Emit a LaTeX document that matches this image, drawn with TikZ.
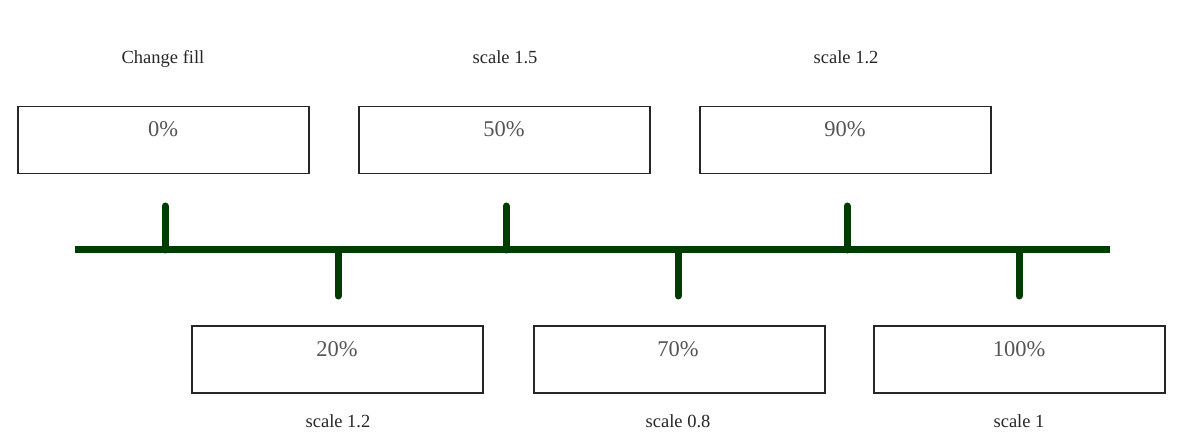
\documentclass[tikz,border=0pt]{standalone}
\usepackage{fontspec}
\setmainfont{Liberation Serif}
\definecolor{tl}{RGB}{0,60,0}
\definecolor{pct}{RGB}{85,85,85}
\begin{document}
\begin{tikzpicture}[x=1pt,y=-1pt,
  box/.style={draw=black!85,line width=1.5pt,fill=white,minimum width=291pt,minimum height=67pt,inner sep=0pt,anchor=north west},
  pc/.style={text=pct,font=\fontsize{22.5}{26}\selectfont,anchor=base},
  lab/.style={text=black!85,font=\fontsize{18.5}{22}\selectfont,anchor=base},
  tline/.style={draw=tl,line width=7pt},
  tick/.style={draw=tl,line width=7pt,line cap=round}]
\useasboundingbox (0,0) rectangle (1196,438);
% timeline
\coordinate (L) at (75,250);
\coordinate (R) at (1110,250);
\draw[tline] (L) -- (R);
% ticks
\foreach \n/\x/\y in {t1/165/206,t3/506/206,t5/847/206,t2/338/296,t4/678/296,t6/1019/296}{
  \coordinate (\n a) at (\x,250);
  \coordinate (\n b) at (\x,\y);
  \draw[tick] (\n a) -- (\n b);
}
% boxes
\node[box] (b0) at (17,106) {};
\node[box] (b50) at (358,106) {};
\node[box] (b90) at (699,106) {};
\node[box] (b20) at (191,325) {};
\node[box] (b70) at (533,325) {};
\node[box] (b100) at (873,325) {};
% percentages
\node[pc] (p0) at (163,137) {0\%};
\node[pc] (p50) at (504,137) {50\%};
\node[pc] (p90) at (845,137) {90\%};
\node[pc] (p20) at (337,356) {20\%};
\node[pc] (p70) at (678,356) {70\%};
\node[pc] (p100) at (1019,356) {100\%};
% labels
\node[lab] (l0) at (163,64) {Change fill};
\node[lab] (l50) at (505,64) {scale 1.5};
\node[lab] (l90) at (846,64) {scale 1.2};
\node[lab] (l20) at (338,427) {scale 1.2};
\node[lab] (l70) at (678,427) {scale 0.8};
\node[lab] (l100) at (1019,427) {scale 1};
\end{tikzpicture}
\end{document}
